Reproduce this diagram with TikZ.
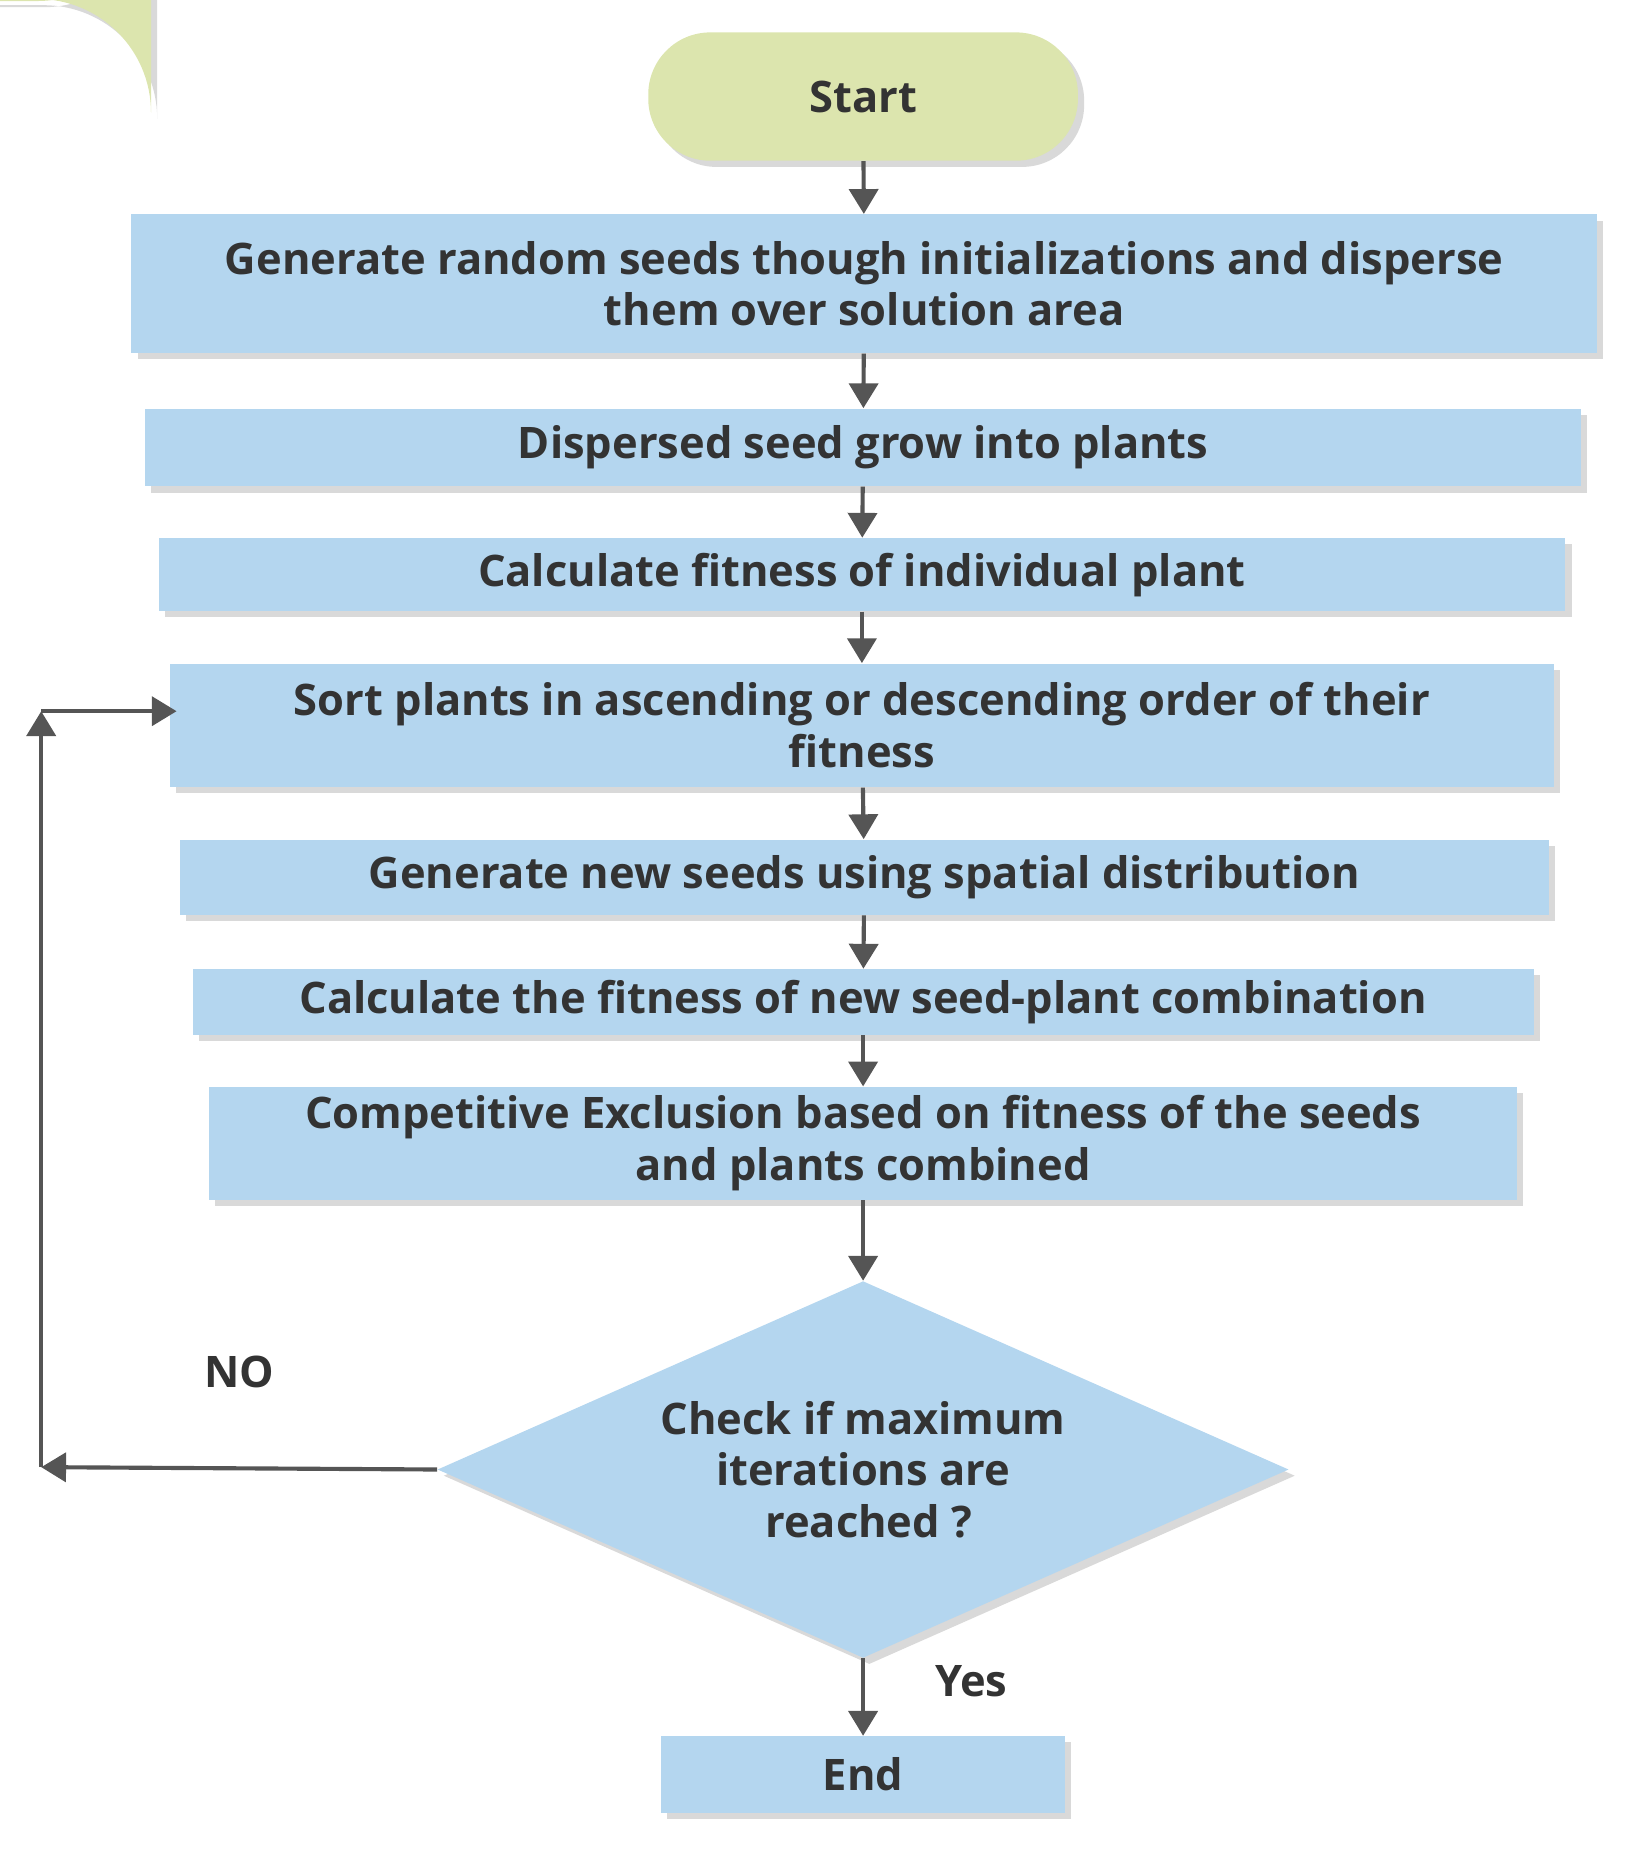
\documentclass[tikz,border=0pt]{standalone}
\usepackage{fontspec}
\setmainfont{Open Sans}
\usetikzlibrary{shapes.geometric,shadows,arrows.meta}
\definecolor{bx}{HTML}{B4D6EF}
\definecolor{st}{HTML}{DCE5AE}
\definecolor{tx}{HTML}{333333}
\definecolor{ln}{HTML}{555555}
\begin{document}
\begin{tikzpicture}[x=0.02cm,y=-0.02cm,
 box/.style={draw=none,fill=bx,font=\fontsize{21}{25}\selectfont\bfseries,text=tx,align=center,inner sep=0pt,
   drop shadow={shadow xshift=3pt,shadow yshift=-3pt,fill=black!25,opacity=0.6}},
 arr/.style={draw=ln,line width=2pt,-{Triangle[length=12pt,width=14pt]}},
 lab/.style={font=\fontsize{21}{25}\selectfont\bfseries,text=tx}]
\useasboundingbox (0,0) rectangle (1390,1572);
\node[box,fill=st,rounded corners=55pt,minimum width=365\pgflinewidth,text width=0pt] at (0,0) {};
\node[box,fill=st,rounded corners=30pt,minimum width=7.3cm,minimum height=2.18cm,drop shadow={opacity=0}] (s) at (733,82) {Start};
\node[box,minimum width=24.9cm,minimum height=2.36cm] (b1) at (734,241) {Generate random seeds though initializations and disperse\\them over solution area};
\node[box,minimum width=24.4cm,minimum height=1.32cm] (b2) at (733,380) {Dispersed seed grow into plants};
\node[box,minimum width=23.9cm,minimum height=1.24cm] (b3) at (732,488) {Calculate fitness of individual plant};
\node[box,minimum width=23.5cm,minimum height=2.1cm] (b4) at (732,616) {Sort plants in ascending or descending order of their\\fitness};
\node[box,minimum width=23.26cm,minimum height=1.28cm] (b5) at (734,745) {Generate new seeds using spatial distribution};
\node[box,minimum width=22.78cm,minimum height=1.12cm] (b6) at (733,851) {Calculate the fitness of new seed-plant combination};
\node[box,minimum width=22.22cm,minimum height=1.92cm] (b7) at (733,971) {Competitive Exclusion based on fitness of the seeds\\and plants combined};
\node[box,diamond,aspect=2.26,minimum width=14.46cm,minimum height=6.4cm,drop shadow={opacity=0}] (d) at (733,1248) {};
\node[lab,align=center] at (733,1248) {Check if maximum\\iterations are\\\ reached ?};
\node[box,minimum width=6.86cm,minimum height=1.3cm] (e) at (733,1507) {End};
\draw[arr] (s) -- (b1);
\draw[arr] (b1) -- (b2);
\draw[arr] (b2) -- (b3);
\draw[arr] (b3) -- (b4);
\draw[arr] (b4) -- (b5);
\draw[arr] (b5) -- (b6);
\draw[arr] (b6) -- (b7);
\draw[arr] (b7) -- (d);
\draw[arr] (d) -- (e);
\coordinate (c1) at (35,1246);
\coordinate (c2) at (35,604);
\coordinate (c3) at (150,604);
\draw[arr] (d.west) -- (c1);
\draw[arr] (c1) -- (c2);
\draw[arr] (c2) -- (c3);
\node[lab] at (203,1165) {NO};
\node[lab] at (825,1428) {Yes};
\end{tikzpicture}
\end{document}
